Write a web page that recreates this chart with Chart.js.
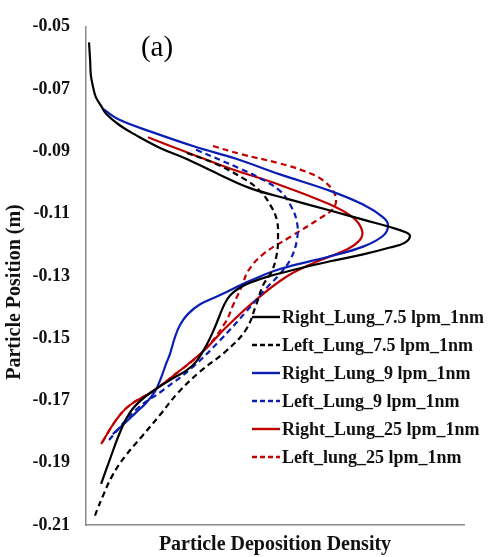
<!DOCTYPE html>
<html>
<head>
<meta charset="utf-8">
<script src="https://cdn.jsdelivr.net/npm/chart.js@4.4.1/dist/chart.umd.min.js"></script>
<style>
  html, body { margin: 0; padding: 0; background: #fff; }
  #wrap { width: 490px; height: 557px; position: relative; }
</style>
</head>
<body>
<div id="wrap"><canvas id="depositionChart"></canvas></div>
<script>
// Particle deposition density (arbitrary units, 0-100) vs particle position (m)
const seriesLabels = [
  'Right_Lung_7.5 lpm_1nm',
  'Left_Lung_7.5 lpm_1nm',
  'Right_Lung_9 lpm_1nm',
  'Left_Lung_9 lpm_1nm',
  'Right_Lung_25 lpm_1nm',
  'Left_lung_25 lpm_1nm'
];

const yTicks = [-0.21, -0.19, -0.17, -0.15, -0.13, -0.11, -0.09, -0.07, -0.05];

const right75X = [0.8, 1.1, 1.3, 1.9, 2.6, 4.0, 5.3, 9.0, 13.2, 19.6, 26.5, 35.2, 43.4, 54.0, 64.6, 73.8, 80.4, 84.4, 85.7, 84.4, 80.4, 73.3, 64.6, 55.8, 48.7, 43.4, 40.7, 38.1, 36.5, 35.2, 33.6, 31.7, 29.1, 26.5, 22.0, 17.7, 14.3, 11.6, 9.0, 6.3, 4.0];
const right75Y = [-0.0550, -0.0610, -0.0657, -0.0695, -0.0726, -0.0754, -0.0779, -0.0817, -0.0848, -0.0889, -0.0924, -0.0974, -0.1018, -0.1055, -0.1090, -0.1121, -0.1143, -0.1159, -0.1171, -0.1193, -0.1209, -0.1231, -0.1253, -0.1278, -0.1300, -0.1322, -0.1338, -0.1363, -0.1394, -0.1432, -0.1479, -0.1526, -0.1576, -0.1604, -0.1636, -0.1670, -0.1702, -0.1739, -0.1802, -0.1890, -0.1968];

const left75X = [26.7, 34.1, 41.5, 46.0, 48.7, 50.5, 50.8, 50.5, 49.2, 46.8, 45.0, 42.3, 37.0, 30.2, 24.3, 19.6, 15.1, 10.3, 6.9, 4.5, 2.9, 2.1];
const left75Y = [-0.0905, -0.0939, -0.0986, -0.1027, -0.1071, -0.1121, -0.1175, -0.1228, -0.1284, -0.1331, -0.1394, -0.1473, -0.1542, -0.1607, -0.1676, -0.1746, -0.1811, -0.1880, -0.1943, -0.2006, -0.2053, -0.2078];

const right9X = [4.5, 8.7, 17.7, 29.1, 39.7, 51.3, 64.6, 73.3, 78.6, 79.9, 78.6, 73.3, 64.6, 51.3, 43.4, 35.2, 30.2, 27.0, 24.9, 23.5, 22.2, 21.2, 19.8, 18.3, 15.9, 13.2, 10.8, 7.1];
const right9Y = [-0.0764, -0.0798, -0.0839, -0.0886, -0.0924, -0.0974, -0.1027, -0.1071, -0.1112, -0.1137, -0.1171, -0.1206, -0.1237, -0.1278, -0.1316, -0.1363, -0.1391, -0.1422, -0.1457, -0.1498, -0.1551, -0.1582, -0.1629, -0.1670, -0.1708, -0.1739, -0.1767, -0.1808];

const left9X = [29.1, 40.7, 46.0, 51.3, 54.0, 55.8, 55.8, 54.2, 51.3, 47.6, 42.3, 35.2, 28.3, 20.4, 13.2, 6.1];
const left9Y = [-0.0895, -0.0955, -0.0986, -0.1027, -0.1071, -0.1127, -0.1184, -0.1244, -0.1294, -0.1341, -0.1416, -0.1510, -0.1592, -0.1667, -0.1730, -0.1827];

const right25X = [16.4, 26.5, 38.1, 51.3, 64.6, 70.6, 73.0, 72.5, 69.0, 60.1, 52.6, 44.2, 37.0, 31.0, 23.8, 17.7, 11.4, 7.9, 4.0];
const right25Y = [-0.0855, -0.0902, -0.0955, -0.1008, -0.1071, -0.1112, -0.1153, -0.1184, -0.1215, -0.1259, -0.1306, -0.1385, -0.1466, -0.1542, -0.1614, -0.1670, -0.1717, -0.1764, -0.1840];

const left25X = [33.6, 40.7, 51.3, 57.9, 62.7, 65.9, 65.6, 61.9, 54.0, 46.8, 42.9, 41.3, 38.9, 36.8, 31.0, 23.8, 17.7, 11.4, 7.9, 4.0];
const left25Y = [-0.0883, -0.0908, -0.0939, -0.0964, -0.0993, -0.1040, -0.1080, -0.1115, -0.1175, -0.1231, -0.1284, -0.1331, -0.1394, -0.1451, -0.1542, -0.1614, -0.1670, -0.1717, -0.1764, -0.1840];

const BLACK = '#000000';
const BLUE = '#0a1eb4';
const RED = '#c00000';
const SERIF = '"Liberation Serif", "Times New Roman", serif';

function toPoints(xs, ys) {
  return xs.map((x, i) => ({ x: x, y: ys[i] }));
}

function makeDataset(label, xs, ys, color, dashed) {
  return {
    label: label,
    data: toPoints(xs, ys),
    borderColor: color,
    backgroundColor: color,
    borderWidth: 2.2,
    borderDash: dashed ? [6, 4] : [],
    showLine: true,
    fill: false,
    pointRadius: 0,
    pointHoverRadius: 0,
    tension: 0.4
  };
}

// legend + "(a)" + y title drawn by hand so they can sit where the original has them
const annotations = {
  id: 'annotations',
  afterDraw(chart) {
    const ctx = chart.ctx;
    ctx.save();

    ctx.fillStyle = '#000';
    ctx.font = '29px ' + SERIF;
    ctx.textAlign = 'center';
    ctx.textBaseline = 'middle';
    ctx.fillText('(a)', 157, 48);

    ctx.save();
    ctx.translate(15, 292);
    ctx.rotate(-Math.PI / 2);
    ctx.font = 'bold 20px ' + SERIF;
    ctx.fillStyle = '#111';
    ctx.fillText('Particle Position (m)', 0, 0);
    ctx.restore();

    ctx.font = 'bold 18px ' + SERIF;
    ctx.textAlign = 'left';
    chart.data.datasets.forEach((ds, i) => {
      const y = 317 + i * 28;
      ctx.beginPath();
      ctx.strokeStyle = ds.borderColor;
      ctx.lineWidth = 2.4;
      ctx.setLineDash(ds.borderDash.length ? [5, 3] : []);
      ctx.moveTo(252, y);
      ctx.lineTo(280, y);
      ctx.stroke();
      ctx.setLineDash([]);
      ctx.fillStyle = '#111';
      ctx.fillText(ds.label, 282, y + 1);
    });
    ctx.restore();
  }
};

const ctx = document.getElementById('depositionChart').getContext('2d');
new Chart(ctx, {
  type: 'scatter',
  data: {
    datasets: [
      makeDataset(seriesLabels[0], right75X, right75Y, BLACK, false),
      makeDataset(seriesLabels[1], left75X, left75Y, BLACK, true),
      makeDataset(seriesLabels[2], right9X, right9Y, BLUE, false),
      makeDataset(seriesLabels[3], left9X, left9Y, BLUE, true),
      makeDataset(seriesLabels[4], right25X, right25Y, RED, false),
      makeDataset(seriesLabels[5], left25X, left25Y, RED, true)
    ]
  },
  options: {
    responsive: true,
    maintainAspectRatio: false,
    animation: false,
    layout: { padding: { top: 15, right: 26, left: 0, bottom: 0 } },
    plugins: {
      legend: { display: false },
      tooltip: { enabled: false }
    },
    scales: {
      x: {
        type: 'linear',
        min: 0,
        max: 100,
        grid: { display: false, drawTicks: false },
        border: { display: true, color: '#8c8c8c', width: 1.5 },
        ticks: { display: false },
        title: {
          display: true,
          text: 'Particle Deposition Density',
          color: '#111',
          font: { family: SERIF, size: 20, weight: 'bold' },
          padding: { top: 3, bottom: 0 }
        },
        afterFit(scale) { scale.height = 32; }
      },
      y: {
        type: 'linear',
        min: yTicks[0],
        max: yTicks[yTicks.length - 1],
        grid: { display: false, drawTicks: false },
        border: { display: true, color: '#8c8c8c', width: 1.5 },
        afterBuildTicks(scale) {
          scale.ticks = yTicks.map(v => ({ value: v }));
        },
        ticks: {
          padding: 16,
          color: '#111',
          font: { family: SERIF, size: 18, weight: 'bold' },
          callback: v => v.toFixed(2)
        },
        afterFit(scale) { scale.width = 86; }
      }
    }
  },
  plugins: [annotations]
});
</script>
</body>
</html>
